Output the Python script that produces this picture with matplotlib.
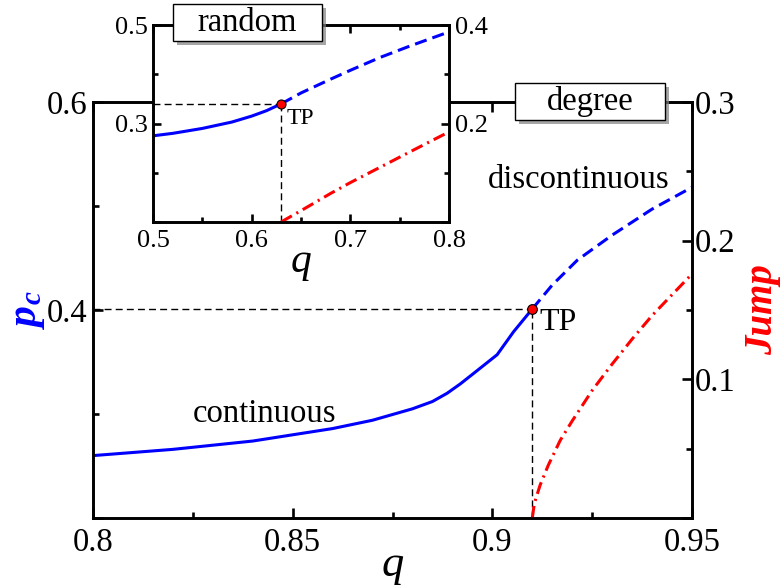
import matplotlib
matplotlib.use('Agg')
import matplotlib.pyplot as plt
from matplotlib.patches import Rectangle
from matplotlib.ticker import MultipleLocator, FixedFormatter, FixedLocator
import matplotlib.patheffects as pe

plt.rcParams['font.family'] = ['Liberation Serif', 'DejaVu Serif']
plt.rcParams['mathtext.fontset'] = 'custom'
plt.rcParams['mathtext.rm'] = 'Liberation Serif'
plt.rcParams['mathtext.it'] = 'Liberation Serif:italic'
plt.rcParams['mathtext.bf'] = 'Liberation Serif:bold:italic'

# main panel (degree)
q_cont = [0.80, 0.82, 0.84, 0.86, 0.87, 0.88, 0.885, 0.8887, 0.892, 0.8953, 0.9012, 0.9053, 0.91]
pc_cont = [0.260, 0.266, 0.274, 0.286, 0.294, 0.305, 0.312, 0.320, 0.329, 0.339, 0.357, 0.379, 0.401]
q_disc = [0.91, 0.915, 0.9213, 0.93, 0.94, 0.95]
pc_disc = [0.401, 0.424, 0.448, 0.472, 0.497, 0.518]
q_jump = [0.91, 0.9105, 0.911, 0.912, 0.914, 0.917, 0.92, 0.925, 0.93, 0.935, 0.94, 0.945, 0.95]
jump = [0.0, 0.010, 0.015, 0.024, 0.038, 0.056, 0.070, 0.092, 0.111, 0.129, 0.146, 0.161, 0.176]
tp_q, tp_pc = 0.91, 0.401

# inset (random)
iq_cont = [0.50, 0.52, 0.55, 0.58, 0.60, 0.615, 0.63]
ipc_cont = [0.275, 0.280, 0.290, 0.303, 0.315, 0.326, 0.340]
iq_disc = [0.63, 0.65, 0.68, 0.70, 0.73, 0.76, 0.80]
ipc_disc = [0.340, 0.362, 0.390, 0.408, 0.434, 0.457, 0.486]
iq_jump = [0.63, 0.635, 0.65, 0.68, 0.70, 0.73, 0.76, 0.80]
ijump = [0.0, 0.006, 0.023, 0.058, 0.080, 0.111, 0.142, 0.183]
itp_q, itp_pc = 0.63, 0.340

W, H = 781, 587
fig = plt.figure(figsize=(W / 100, H / 100), dpi=100)

def frac(x0, y0, x1, y1):
    return [x0 / W, 1 - y1 / H, (x1 - x0) / W, (y1 - y0) / H]

dash = (4, 2)
dashdot = (4, 1.7, 0.7, 1.7)
lw = 2.2

def style(ax, size, major, minor, pad):
    for s in ax.spines.values():
        s.set_linewidth(1.9)
    ax.tick_params(which='both', direction='in', width=1.9, labelsize=size, pad=pad)
    ax.tick_params(which='major', length=major)
    ax.tick_params(which='minor', length=minor)

# ---- main axes ----
ax = fig.add_axes(frac(93, 102, 692, 518))
ax.plot(q_cont, pc_cont, color='blue', lw=lw)
ax.plot(q_disc, pc_disc, color='blue', lw=lw, dashes=dash)
ax.plot([0.8, tp_q], [tp_pc, tp_pc], color='black', lw=1.0, dashes=(5, 3))
ax.plot([tp_q, tp_q], [0.2, tp_pc], color='black', lw=1.0, dashes=(5, 3))
ax.plot([tp_q], [tp_pc], 'o', color='red', mec='black', mew=0.8, ms=7, zorder=5)
ax.set_xlim(0.8, 0.95)
ax.set_ylim(0.2, 0.6)
ax.xaxis.set_major_locator(FixedLocator([0.8, 0.85, 0.9, 0.95]))
ax.xaxis.set_major_formatter(FixedFormatter(['0.8', '0.85', '0.9', '0.95']))
ax.xaxis.set_minor_locator(MultipleLocator(0.025))
ax.yaxis.set_major_locator(FixedLocator([0.2, 0.4, 0.6]))
ax.yaxis.set_major_formatter(FixedFormatter(['', '0.4', '0.6']))
ax.yaxis.set_minor_locator(MultipleLocator(0.1))
ax.xaxis.set_ticks_position('both')
style(ax, 23.5, 7, 4, 4)
ax.tick_params(axis='x', pad=7)
ax.set_xlabel('$q$', fontsize=32, labelpad=-8)
ax.set_ylabel(r'$\mathbf{p_c}$', fontsize=30, color='blue', labelpad=0)
ax.text(0.843, 0.300, 'continuous', fontsize=23.5, ha='center', va='center')
ax.text(tp_q + 0.0017, 0.388, 'TP', fontsize=23, ha='left', va='center')

ax2 = ax.twinx()
ax2.plot(q_jump, jump, color='red', lw=lw, dashes=dashdot)
ax2.set_ylim(0, 0.3)
ax2.yaxis.set_major_locator(FixedLocator([0.0, 0.1, 0.2, 0.3]))
ax2.yaxis.set_major_formatter(FixedFormatter(['', '0.1', '0.2', '0.3']))
ax2.yaxis.set_minor_locator(MultipleLocator(0.05))
style(ax2, 23.5, 7, 4, 2)
ax2.set_ylabel('Jump', fontsize=28, color='red', fontweight='bold', style='italic',
               labelpad=6)
ax2.text(0.9215, 0.244, 'discontinuous', fontsize=23.5, ha='center', va='center')

# ---- inset ----
ins = fig.add_axes(frac(153, 25, 449, 222))
ins.set_facecolor('white')
ins.plot(iq_cont, ipc_cont, color='blue', lw=lw)
ins.plot(iq_disc, ipc_disc, color='blue', lw=lw, dashes=dash)
ins.plot([0.5, itp_q], [itp_pc, itp_pc], color='black', lw=1.0, dashes=(5, 3))
ins.plot([itp_q, itp_q], [0.1, itp_pc], color='black', lw=1.0, dashes=(5, 3))
ins.plot([itp_q], [itp_pc], 'o', color='red', mec='black', mew=0.8, ms=6.5, zorder=5)
ins.set_xlim(0.5, 0.8)
ins.set_ylim(0.1, 0.5)
ins.xaxis.set_major_locator(FixedLocator([0.5, 0.6, 0.7, 0.8]))
ins.xaxis.set_major_formatter(FixedFormatter(['0.5', '0.6', '0.7', '0.8']))
ins.xaxis.set_minor_locator(MultipleLocator(0.05))
ins.yaxis.set_major_locator(FixedLocator([0.1, 0.3, 0.5]))
ins.yaxis.set_major_formatter(FixedFormatter(['', '0.3', '0.5']))
ins.yaxis.set_minor_locator(MultipleLocator(0.1))
ins.xaxis.set_ticks_position('both')
style(ins, 19, 6, 3.5, 4)
ins.tick_params(axis='x', pad=6)
ins.set_xlabel('$q$', fontsize=30, labelpad=-6)
ins.text(itp_q + 0.005, itp_pc - 0.03, 'TP', fontsize=17, ha='left', va='center')

ins2 = ins.twinx()
ins2.plot(iq_jump, ijump, color='red', lw=lw, dashes=dashdot)
ins2.set_ylim(0, 0.4)
ins2.yaxis.set_major_locator(FixedLocator([0.0, 0.2, 0.4]))
ins2.yaxis.set_major_formatter(FixedFormatter(['', '0.2', '0.4']))
ins2.yaxis.set_minor_locator(MultipleLocator(0.1))
style(ins2, 19, 6, 3.5, 4)

# ---- labelled boxes ----
def box(x0, y0, x1, y1, label):
    r = Rectangle((x0 / W, 1 - y1 / H), (x1 - x0) / W, (y1 - y0) / H,
                  transform=fig.transFigure, facecolor='white', edgecolor='black',
                  lw=1.0, zorder=10)
    r.set_path_effects([pe.SimplePatchShadow(offset=(3, -3), shadow_rgbFace='gray', alpha=0.7),
                        pe.Normal()])
    fig.add_artist(r)
    fig.text((x0 + x1) / 2 / W, 1 - (y0 + y1) / 2 / H, label, fontsize=23.5,
             ha='center', va='center', zorder=11)

box(173, 4, 322, 41, 'random')
box(515, 83, 665, 120, 'degree')

fig.savefig('out.png', dpi=100)
